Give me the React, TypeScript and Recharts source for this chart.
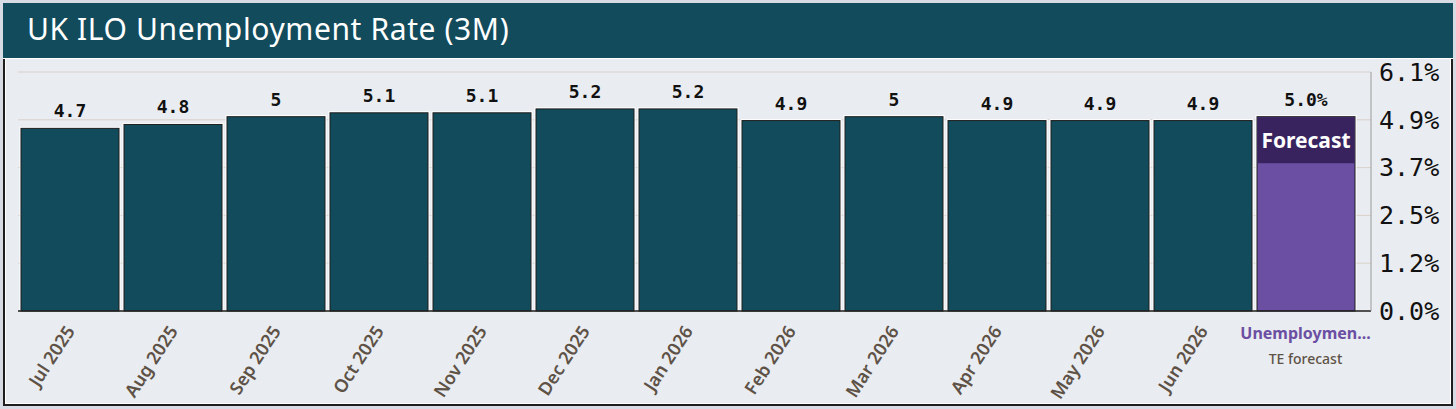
import React from 'react';
import { BarChart, Bar, XAxis, YAxis, CartesianGrid, LabelList } from 'recharts';

const categories = [
  'Jul 2025', 'Aug 2025', 'Sep 2025', 'Oct 2025', 'Nov 2025', 'Dec 2025',
  'Jan 2026', 'Feb 2026', 'Mar 2026', 'Apr 2026', 'May 2026', 'Jun 2026', 'Unemploymen...',
];
const values = [4.7, 4.8, 5, 5.1, 5.1, 5.2, 5.2, 4.9, 5, 4.9, 4.9, 4.9, 5.0];
const valueLabels = ['4.7', '4.8', '5', '5.1', '5.1', '5.2', '5.2', '4.9', '5', '4.9', '4.9', '4.9', '5.0%'];
const forecastFlags = [false, false, false, false, false, false, false, false, false, false, false, false, true];
const yTicks = [0, 1.23, 2.46, 3.69, 4.92, 6.15];
const yTickLabels = ['0.0%', '1.2%', '2.5%', '3.7%', '4.9%', '6.1%'];
const titleText = 'UK ILO Unemployment Rate (3M)';
const forecastBandText = 'Forecast';
const forecastSubText = 'TE forecast';

const data = categories.map((name, i) => ({
  name,
  value: values[i],
  label: valueLabels[i],
  forecast: forecastFlags[i],
}));

const TEAL = '#124b5b';
const PURPLE = '#6b4fa2';
const PURPLE_DARK = '#38235f';
const LABEL_FONT = '"Noto Sans", sans-serif';
const MONO = '"DejaVu Sans Mono", monospace';

function BarShape(props: any) {
  const { x, y, width, height, payload } = props;
  if (width == null || height == null) return null;
  const isF = payload && payload.forecast;
  const band = 46;
  return (
    <g>
      <rect x={x - 1.5} y={y - 1.5} width={width + 3} height={height + 1.5} fill="#ffffff" />
      <rect x={x} y={y} width={width} height={height} fill={isF ? PURPLE : TEAL} stroke="#1c1c1c" strokeWidth={1} />
      {isF && (
        <g>
          <rect x={x + 0.5} y={y + 0.5} width={width - 1} height={band} fill={PURPLE_DARK} />
          <text
            x={x + width / 2}
            y={y + 31}
            textAnchor="middle"
            fill="#ffffff"
            fontFamily={LABEL_FONT}
            fontWeight={700}
            fontSize={21}
          >
            {forecastBandText}
          </text>
        </g>
      )}
    </g>
  );
}

function XTick(props: any) {
  const { x, y, payload, index } = props;
  const item = data[index];
  if (item && item.forecast) {
    return (
      <g>
        <text x={x} y={y + 20} textAnchor="middle" fill={PURPLE} fontFamily={LABEL_FONT} fontWeight={700} fontSize={16}>
          {payload.value}
        </text>
        <text x={x} y={y + 45} textAnchor="middle" fill="#5e5247" fontFamily={LABEL_FONT} fontWeight={500} fontSize={14}>
          {forecastSubText}
        </text>
      </g>
    );
  }
  return (
    <g transform={`translate(${x + 6},${y + 12})`}>
      <text
        x={0}
        y={0}
        textAnchor="end"
        transform="rotate(-57)"
        fill="#5e5247"
        fontFamily={LABEL_FONT}
        fontWeight={600}
        fontSize={18}
      >
        {payload.value}
      </text>
    </g>
  );
}

export default function App() {
  return (
    <div
      style={{
        position: 'absolute',
        left: 0,
        top: 0,
        width: 1456,
        height: 409,
        background: '#d6dbe4',
        overflow: 'hidden',
      }}
    >
      <div
        style={{
          position: 'absolute',
          left: 3,
          top: 3,
          width: 1446,
          height: 399,
          border: '2px solid #1e1e1e',
          background: '#e9ecf0',
          boxShadow: 'inset 0 0 0 1px #ffffff',
        }}
      />
      <div
        style={{
          position: 'absolute',
          left: 3,
          top: 3,
          width: 1450,
          height: 55,
          background: TEAL,
          borderBottom: '1px solid #ffffff',
        }}
      >
        <div
          style={{
            position: 'absolute',
            left: 24,
            top: 7,
            color: '#ffffff',
            fontFamily: LABEL_FONT,
            fontSize: 30,
            fontWeight: 400,
            letterSpacing: 0.6,
            lineHeight: '38px',
            whiteSpace: 'nowrap',
          }}
        >
          {titleText}
        </div>
      </div>
      <div style={{ position: 'absolute', left: 0, top: 0 }}>
        <BarChart
          width={1456}
          height={409}
          data={data}
          margin={{ top: 72, right: 0, bottom: 0, left: 18 }}
        >
          <CartesianGrid vertical={false} stroke="#d9d2ca" strokeWidth={1} />
          <XAxis
            dataKey="name"
            interval={0}
            height={98}
            tickLine={false}
            axisLine={{ stroke: '#222222', strokeWidth: 1.5 }}
            padding={{ left: 0, right: 14 }}
            tick={<XTick />}
          />
          <YAxis
            orientation="right"
            width={85}
            domain={[0, 6.15]}
            ticks={yTicks}
            interval={0}
            tickLine={false}
            axisLine={{ stroke: '#9a9a9a', strokeWidth: 1 }}
            tickFormatter={(v: number) => {
              const i = yTicks.indexOf(v);
              return i >= 0 ? yTickLabels[i] : '';
            }}
            tick={{ fontFamily: MONO, fontSize: 25, fill: '#111111' }}
          />
          <Bar dataKey="value" barSize={98} isAnimationActive={false} shape={<BarShape />}>
            <LabelList
              dataKey="label"
              position="top"
              offset={11}
              style={{ fontFamily: MONO, fontSize: 18, fontWeight: 700, fill: '#111111' }}
            />
          </Bar>
        </BarChart>
      </div>
    </div>
  );
}
